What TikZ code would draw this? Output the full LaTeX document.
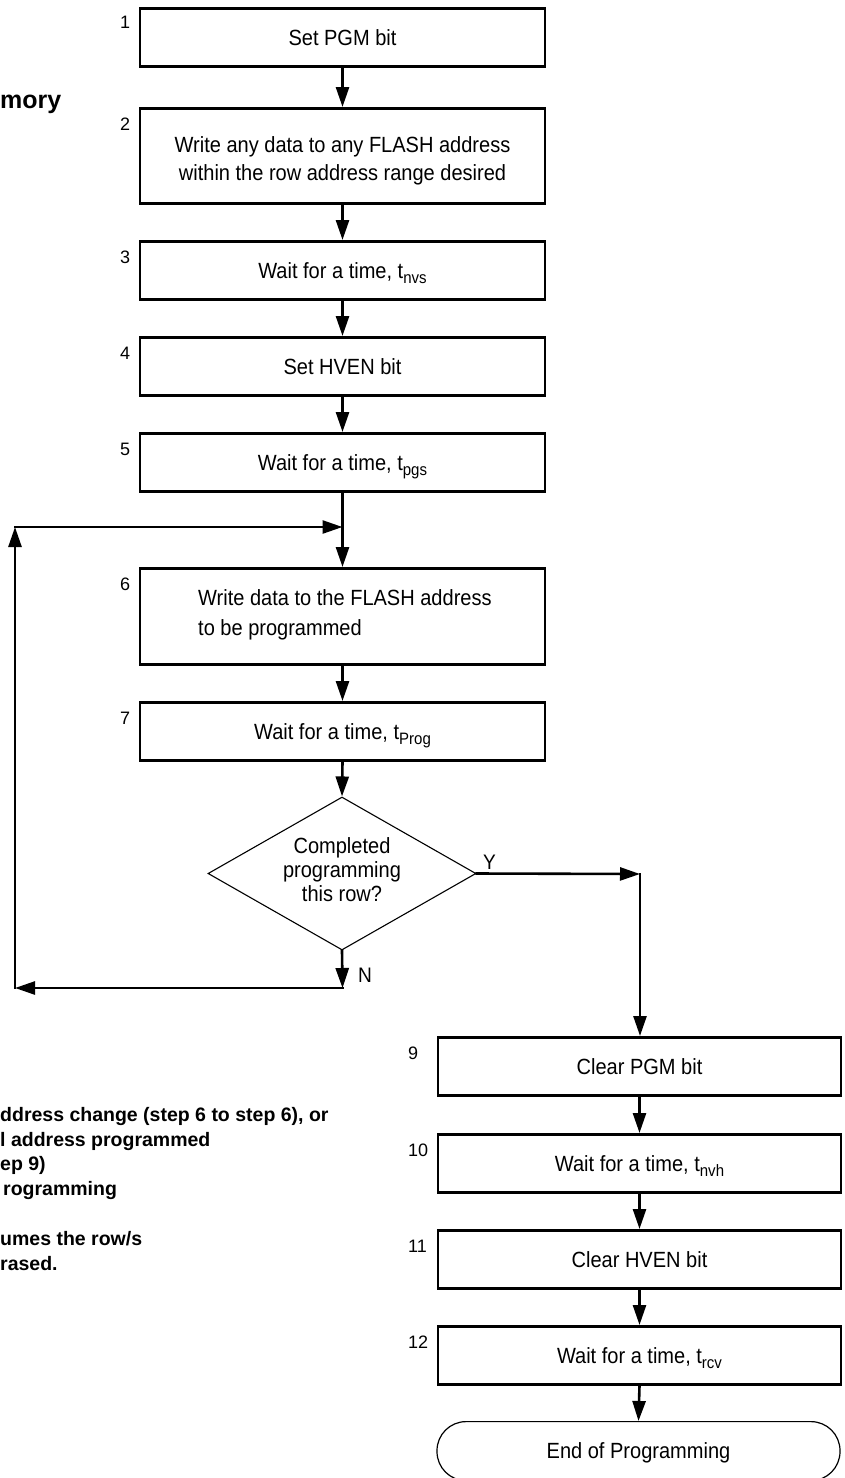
\documentclass[tikz,border=0pt]{standalone}
\usepackage{fontspec}
\setmainfont{Liberation Sans}[FakeStretch=0.91]
\newfontfamily\wide{Liberation Sans}
\usetikzlibrary{arrows.meta,shapes.geometric}
\newcommand\sbs[1]{\raisebox{-5pt}{\fontsize{16.5pt}{16.5pt}\selectfont #1}}
\tikzset{
  box/.style={draw, line width=2.6pt, minimum width=405pt, minimum height=58pt,
    inner sep=0pt, text height=15.75pt, text depth=0pt, anchor=north,
    font=\fontsize{22pt}{26pt}\selectfont},
  mbox/.style={draw, line width=2.6pt, minimum width=405pt, minimum height=95pt,
    inner sep=0pt, anchor=north},
  rbox/.style={box, minimum width=403pt},
  txt/.style={inner sep=0pt, font=\fontsize{22pt}{26pt}\selectfont},
  num/.style={anchor=base west, inner sep=0pt, font=\wide\fontsize{18pt}{18pt}\selectfont},
  yn/.style={anchor=base west, inner sep=0pt, font=\fontsize{21pt}{21pt}\selectfont},
  note/.style={anchor=base west, inner sep=0pt, font=\wide\bfseries\fontsize{19.5pt}{19.5pt}\selectfont},
  dia/.style={draw, diamond, shape aspect=1.75, minimum width=268pt, minimum height=153pt,
    inner sep=0pt, line width=1.1pt},
  conn/.style={line width=2.6pt, line cap=rect, -{Triangle[length=20pt,width=13pt]}},
  plain/.style={line width=2.6pt, line cap=rect},
}
\begin{document}
\begin{tikzpicture}[x=1pt,y=-1pt]
\useasboundingbox (0,0) rectangle (844,1478);
\clip (0,0) rectangle (844,1478);
% heading fragment
\node[anchor=base west, inner sep=0pt, font=\wide\bfseries\fontsize{25pt}{25pt}\selectfont] (hd) at (0,108) {mory};
% left column
\node[box] (b1) at (342.5,7) {Set PGM bit};
\node[mbox] (b2) at (342.5,107) {};
\node[txt, anchor=base] (b2a) at (342.5,152) {Write any data to any FLASH address};
\node[txt, anchor=base] (b2b) at (342.5,180) {within the row address range desired};
\node[box] (b3) at (342.5,240) {Wait for a time, t\sbs{nvs}};
\node[box] (b4) at (342.5,336) {Set HVEN bit};
\node[box] (b5) at (342.5,432) {Wait for a time, t\sbs{pgs}};
\node[mbox, minimum height=96pt] (b6) at (342.5,567) {};
\node[txt, anchor=base west] (b6a) at (198,605) {Write data to the FLASH address};
\node[txt, anchor=base west] (b6b) at (198,635) {to be programmed};
\node[box] (b7) at (342.5,701) {Wait for a time, t\sbs{Prog}};
\node[dia] (d) at (342,873.5) {};
\node[txt, anchor=base] (da) at (342,853) {Completed};
\node[txt, anchor=base] (db) at (342,877) {programming};
\node[txt, anchor=base] (dc) at (342,901) {this row?};
% right column
\node[rbox] (b9) at (639.5,1036) {Clear PGM bit};
\node[rbox] (b10) at (639.5,1133) {Wait for a time, t\sbs{nvh}};
\node[rbox] (b11) at (639.5,1229) {Clear HVEN bit};
\node[rbox] (b12) at (639.5,1325) {Wait for a time, t\sbs{rcv}};
\node[rbox, line width=1.2pt, rounded corners=29pt, minimum height=59pt] (e) at (638.5,1421) {End of Programming};
% step numbers
\node[num] (n1) at (120,28) {1};
\node[num] (n2) at (120,130) {2};
\node[num] (n3) at (120,263) {3};
\node[num] (n4) at (120,359) {4};
\node[num] (n5) at (120,455) {5};
\node[num] (n6) at (120,590) {6};
\node[num] (n7) at (120,724) {7};
\node[num] (n9) at (408,1059) {9};
\node[num] (n10) at (408,1156) {10};
\node[num] (n11) at (408,1252) {11};
\node[num] (n12) at (408,1348) {12};
% Y / N
\node[yn] (ly) at (483,869) {Y};
\node[yn] (ln) at (358,982) {N};
% junctions
\coordinate (j) at (342.5,527);
\coordinate (nc) at (342.5,988);
\coordinate (lb) at (15,988);
\coordinate (lt) at (15,527);
\coordinate (yc) at (640,874);
% connectors
\draw[conn] (b1.south) -- (b2.north);
\draw[conn] (b2.south) -- (b3.north);
\draw[conn] (b3.south) -- (b4.north);
\draw[conn] (b4.south) -- (b5.north);
\draw[plain] (b5.south) -- (j);
\draw[conn] (j) -- (b6.north);
\draw[conn] (b6.south) -- (b7.north);
\draw[conn] (b7.south) -- (d.north);
\draw[conn] (d.south) -- (nc);
\draw[conn] (nc) -- (lb);
\draw[conn] (lb) -- (lt);
\draw[conn] (lt) -- (j);
\draw[conn] (d.east) -- (yc);
\draw[conn] (yc) -- (yc |- b9.north);
\draw[conn] (b9.south) -- (b10.north);
\draw[conn] (b10.south) -- (b11.north);
\draw[conn] (b11.south) -- (b12.north);
\draw[conn] (b12.south) -- (e.north);
% note fragment
\node[note] (t1) at (0,1121) {ddress change (step 6 to step 6), or};
\node[note] (t2) at (0,1146) {l address programmed};
\node[note] (t3) at (0,1170) {ep 9)};
\node[note] (t4) at (3,1195) {rogramming};
\node[note] (t5) at (0,1245) {umes the row/s};
\node[note] (t6) at (0,1270) {rased.};
\end{tikzpicture}
\end{document}
